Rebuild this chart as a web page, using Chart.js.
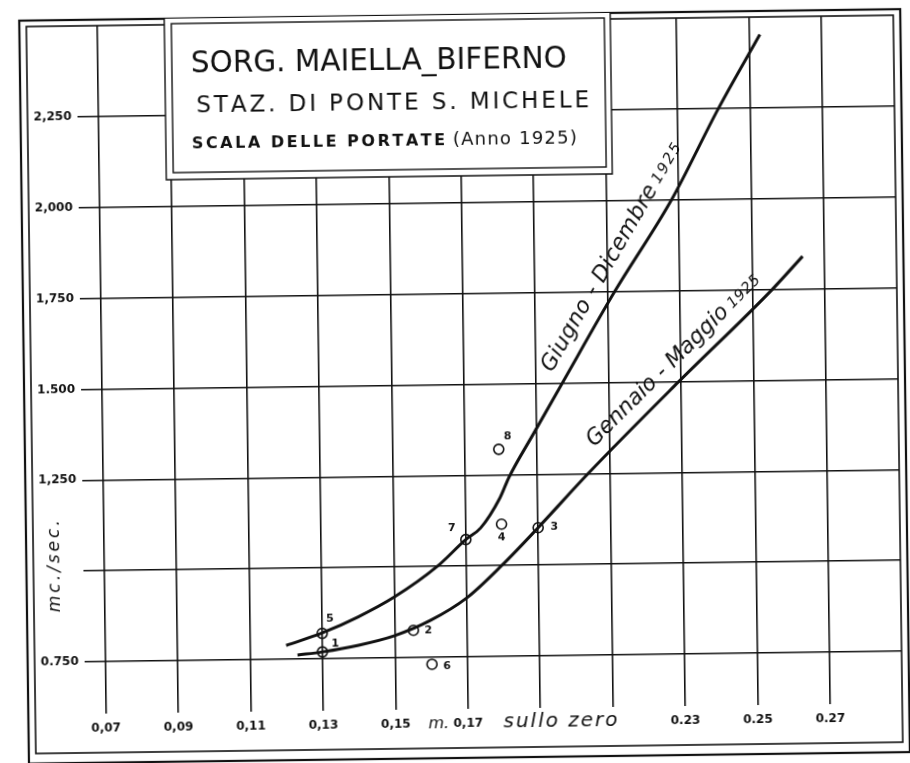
<!DOCTYPE html>
<html>
<head>
<meta charset="utf-8">
<title>Scala delle portate 1925</title>
<script src="https://cdn.jsdelivr.net/npm/chart.js@4.4.1/dist/chart.umd.min.js"></script>
<style>
  html, body { margin: 0; padding: 0; background: #fff; overflow: hidden; }
  /* the scan is a little crooked, so the sheet is turned slightly */
  #chart { display: block; transform: rotate(-0.75deg); transform-origin: 455px 381px; }
</style>
</head>
<body>
<canvas id="chart" width="910" height="763"></canvas>
<script>
// stage (m sullo zero) on x, discharge (mc/sec) on y
const xMin = 0.0643;
const xMax = 0.2899;
const yMin = 0.607;
const yMax = 2.5;

const xTicks = [0.07, 0.09, 0.11, 0.13, 0.15, 0.17, 0.19, 0.21, 0.23, 0.25, 0.27];
const xTickLabels = ['0,07', '0,09', '0,11', '0,13', '0,15', '0,17', '', '', '0.23', '0.25', '0.27'];
const yTicks = [0.75, 1.0, 1.25, 1.5, 1.75, 2.0, 2.25];
const yTickLabels = ['0.750', '', '1,250', '1.500', '1,750', '2,000', '2,250'];

// Giugno - Dicembre 1925
const giugnoX = [0.120, 0.130, 0.140, 0.150, 0.162, 0.170, 0.1741, 0.1796, 0.1821, 0.1892, 0.1972, 0.212, 0.228, 0.2413, 0.253];
const giugnoY = [0.788, 0.821, 0.864, 0.917, 1.000, 1.073, 1.104, 1.187, 1.242, 1.364, 1.500, 1.750, 2.000, 2.250, 2.452];

// Gennaio - Maggio 1925
const gennaioX = [0.1231, 0.130, 0.140, 0.150, 0.160, 0.170, 0.180, 0.190, 0.204, 0.2294, 0.2555, 0.264];
const gennaioY = [0.761, 0.769, 0.786, 0.811, 0.852, 0.912, 1.002, 1.103, 1.250, 1.500, 1.750, 1.840];

// measured points
const pointX = [0.130, 0.1552, 0.190, 0.1799, 0.130, 0.1602, 0.170, 0.1794];
const pointY = [0.769, 0.825, 1.103, 1.114, 0.820, 0.731, 1.073, 1.320];
const pointLabels = ['1', '2', '3', '4', '5', '6', '7', '8'];

const toXY = (xs, ys) => xs.map((x, i) => ({ x: x, y: ys[i] }));

const FONT = '"DejaVu Sans", sans-serif';

// draws left-aligned text stretched (by spacing) or squeezed to a given width
function fitText(ctx, text, x, y, width) {
  const natural = ctx.measureText(text).width;
  if (!width || natural >= width || text.length < 2) {
    ctx.fillText(text, x, y, width || undefined);
    return Math.min(natural, width || natural);
  }
  const gap = (width - natural) / (text.length - 1);
  let cx = x;
  for (const ch of text) {
    ctx.fillText(ch, cx, y);
    cx += ctx.measureText(ch).width + gap;
  }
  return width;
}

function slantText(ctx, x, y, angle, main, mainW, year, yearW) {
  ctx.save();
  ctx.translate(x, y);
  ctx.rotate(-angle * Math.PI / 180);
  ctx.textAlign = 'left';
  ctx.textBaseline = 'alphabetic';
  ctx.font = 'italic 22px ' + FONT;
  fitText(ctx, main, 0, 0, mainW);
  ctx.font = 'italic 15px ' + FONT;
  fitText(ctx, year, mainW + 5, -1, yearW);
  ctx.restore();
}

const paper = {
  id: 'paper',
  beforeDraw(chart) {
    const ctx = chart.ctx;
    ctx.save();
    ctx.fillStyle = '#fff';
    ctx.fillRect(0, 0, chart.width, chart.height);
    ctx.restore();
  },
  afterDraw(chart) {
    const ctx = chart.ctx;
    const xs = chart.scales.x, ys = chart.scales.y;
    ctx.save();
    ctx.strokeStyle = '#111';
    ctx.fillStyle = '#111';

    // double frame
    ctx.lineWidth = 2.2;
    ctx.strokeRect(24, 15, 881, 743);
    ctx.lineWidth = 1.6;
    ctx.strokeRect(31, 21, 867, 727);

    // title box with its shadow lines
    ctx.fillStyle = '#fff';
    ctx.fillRect(169, 15, 446, 161);
    ctx.lineWidth = 1.4;
    ctx.beginPath();
    ctx.moveTo(169, 15); ctx.lineTo(169, 176); ctx.lineTo(615, 176); ctx.lineTo(615, 15);
    ctx.stroke();
    ctx.strokeRect(176, 20, 433, 149);

    ctx.fillStyle = '#111';
    ctx.textBaseline = 'alphabetic';
    ctx.textAlign = 'left';
    ctx.font = '30px ' + FONT;
    fitText(ctx, 'SORG. MAIELLA_BIFERNO', 195, 69, 376);
    ctx.font = '23px ' + FONT;
    fitText(ctx, 'STAZ. DI PONTE S. MICHELE', 200, 109, 391);
    ctx.font = 'bold 16px ' + FONT;
    fitText(ctx, 'SCALA DELLE PORTATE', 195, 145, 250);
    ctx.font = '18px ' + FONT;
    fitText(ctx, '(Anno 1925)', 456, 145, 124);

    // axis words
    ctx.save();
    ctx.translate(53, 561);
    ctx.rotate(-Math.PI / 2);
    ctx.textAlign = 'left';
    ctx.textBaseline = 'middle';
    ctx.font = 'italic 17px ' + FONT;
    fitText(ctx, 'mc./sec.', -46, 0, 92);
    ctx.restore();

    ctx.textBaseline = 'middle';
    ctx.textAlign = 'left';
    ctx.font = 'italic 16px ' + FONT;
    ctx.fillText('m.', 424, 724);
    ctx.font = 'italic 20px ' + FONT;
    fitText(ctx, 'sullo zero', 499, 723, 114);

    // point numbers
    const off = [[13, -8], [15, 0], [16, -1], [0, 13], [8, -14], [15, 2], [-14, -11], [9, -13]];
    ctx.font = 'bold 11px ' + FONT;
    ctx.textAlign = 'center';
    pointLabels.forEach((t, i) => {
      const px = xs.getPixelForValue(pointX[i]) + off[i][0];
      const py = ys.getPixelForValue(pointY[i]) + off[i][1];
      ctx.fillText(t, px, py);
    });

    // curve names
    slantText(ctx, xs.getPixelForValue(0.1946) - 1, ys.getPixelForValue(1.525) - 1, 59.3, 'Giugno - Dicembre', 212, '1925', 44);
    slantText(ctx, xs.getPixelForValue(0.206) - 1, ys.getPixelForValue(1.316) - 2, 44, 'Gennaio - Maggio', 191, '1925', 40);

    ctx.restore();
  }
};

new Chart(document.getElementById('chart'), {
  type: 'scatter',
  data: {
    datasets: [
      {
        label: 'Giugno - Dicembre 1925',
        data: toXY(giugnoX, giugnoY),
        showLine: true,
        borderColor: '#111',
        borderWidth: 3,
        pointRadius: 0,
        cubicInterpolationMode: 'monotone'
      },
      {
        label: 'Gennaio - Maggio 1925',
        data: toXY(gennaioX, gennaioY),
        showLine: true,
        borderColor: '#111',
        borderWidth: 3,
        pointRadius: 0,
        cubicInterpolationMode: 'monotone'
      },
      {
        label: 'misure',
        data: toXY(pointX, pointY),
        showLine: false,
        pointStyle: 'circle',
        pointRadius: 5,
        borderWidth: 1.6,
        borderColor: '#111',
        backgroundColor: 'rgba(0,0,0,0)'
      }
    ]
  },
  options: {
    responsive: false,
    devicePixelRatio: 1,
    animation: false,
    layout: { padding: { top: 21, right: 12, left: 0, bottom: 0 } },
    plugins: {
      legend: { display: false },
      tooltip: { enabled: false }
    },
    scales: {
      x: {
        type: 'linear',
        min: xMin,
        max: xMax,
        afterBuildTicks: s => { s.ticks = xTicks.map(v => ({ value: v })); },
        afterFit: s => { s.height = 54; },
        border: { display: false },
        grid: { color: '#111', lineWidth: 1.6, drawTicks: false },
        ticks: {
          autoSkip: false,
          maxRotation: 0,
          padding: 8,
          color: '#111',
          font: { family: 'DejaVu Sans', size: 12, weight: 'bold' },
          callback: (v, i) => xTickLabels[i]
        }
      },
      y: {
        type: 'linear',
        min: yMin,
        max: yMax,
        afterBuildTicks: s => { s.ticks = yTicks.map(v => ({ value: v })); },
        afterFit: s => { s.width = 81; },
        border: { display: false },
        grid: { color: '#111', lineWidth: 1.6, drawTicks: false },
        ticks: {
          autoSkip: false,
          padding: 6,
          color: '#111',
          font: { family: 'DejaVu Sans', size: 12, weight: 'bold' },
          callback: (v, i) => yTickLabels[i]
        }
      }
    }
  },
  plugins: [paper]
});
</script>
</body>
</html>
